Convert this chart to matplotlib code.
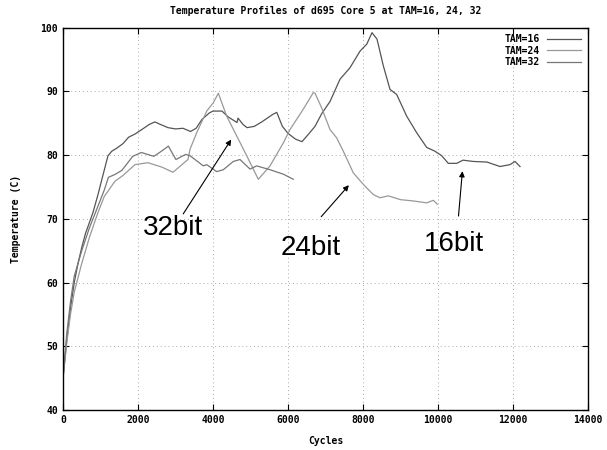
import matplotlib
matplotlib.use("Agg")
from matplotlib import pyplot as plt

# TAM=16 run
tam16_x = [0, 100, 200, 300, 400, 500, 600, 800, 933, 1050, 1200, 1300, 1440, 1600, 1750,
           1920, 2100, 2300, 2450, 2600, 2800, 3000, 3200, 3400, 3550, 3707, 3900, 4000,
           4240, 4400, 4640, 4667, 4800, 4907, 5100, 5300, 5600, 5700, 5850, 6000, 6200,
           6373, 6550, 6720, 6900, 7120, 7387, 7653, 7920, 8100, 8240, 8373, 8542, 8720,
           8898, 9165, 9432, 9698, 9920, 10098, 10275, 10500, 10667, 10933, 11307, 11653,
           11920, 12053, 12187]
tam16_y = [45, 51, 56, 60, 63, 65.5, 67.7, 71, 73.8, 76.5, 79.9, 80.6, 81.1, 81.8, 82.8,
           83.3, 84, 84.8, 85.2, 84.8, 84.3, 84.1, 84.2, 83.7, 84.2, 85.6, 86.6, 86.9,
           86.9, 86, 85.1, 85.8, 84.8, 84.3, 84.5, 85.2, 86.4, 86.7, 84.5, 83.4, 82.5,
           82.1, 83.3, 84.5, 86.5, 88.4, 91.9, 93.7, 96.3, 97.4, 99.2, 98.2, 94, 90.3,
           89.5, 86.1, 83.5, 81.2, 80.6, 79.9, 78.7, 78.7, 79.2, 79, 78.9, 78.2,
           78.5, 79, 78.2]

# TAM=24 run
tam24_x = [0, 100, 200, 300, 500, 700, 933, 1100, 1387, 1600, 1920, 2267, 2640, 2933, 3173,
           3333, 3387, 3565, 3832, 4008, 4142, 4365, 4632, 4898, 5208, 5520, 5875, 6053,
           6408, 6675, 6720, 6898, 7120, 7298, 7475, 7742, 8008, 8275, 8453, 8675, 9000,
           9342, 9698, 9875, 9982]
tam24_y = [45, 50.5, 55, 58.5, 63, 67, 71, 73.5, 75.9, 76.8, 78.5, 78.8, 78.1, 77.3, 78.5,
           79.3, 80.9, 83.5, 86.9, 88.2, 89.7, 86.1, 83, 79.9, 76.2, 78.3, 81.9, 84,
           87.2, 89.8, 89.7, 87.4, 84, 82.7, 80.6, 77.2, 75.4, 73.8, 73.3, 73.6, 73,
           72.8, 72.5, 72.9, 72.3]

# TAM=32 run
tam32_x = [0, 100, 200, 300, 500, 700, 933, 1100, 1210, 1400, 1570, 1860, 2090, 2420, 2600,
           2810, 3010, 3270, 3387, 3742, 3832, 4098, 4275, 4542, 4720, 4987, 5165, 5520,
           5875, 6142]
tam32_y = [45, 52, 57, 61, 65, 68.5, 72, 74.5, 76.5, 77, 77.6, 79.8, 80.4, 79.8, 80.5,
           81.4, 79.3, 80.1, 79.9, 78.3, 78.5, 77.4, 77.7, 79, 79.3, 77.8, 78.3, 77.7,
           77, 76.2]

# annotations: label, text position, arrow tail, arrow head
notes = [
    ("32bit", (2933, 67.4), (3165, 70.4), (4525, 82.8)),
    ("24bit", (6613, 64.3), (6837, 70.0), (7672, 75.6)),
    ("16bit", (10418, 64.9), (10540, 70.0), (10657, 77.9)),
]

mono = {"family": "DejaVu Sans Mono", "weight": "bold", "size": 7}

fig = plt.figure(figsize=(6.07, 4.5), dpi=100)
ax = fig.add_axes([0.1038, 0.0889, 0.8649, 0.8498])

ax.plot(tam16_x, tam16_y, color="#555555", lw=0.9, label="TAM=16")
ax.plot(tam24_x, tam24_y, color="#999999", lw=0.9, label="TAM=24")
ax.plot(tam32_x, tam32_y, color="#777777", lw=0.9, label="TAM=32")

for label, txt, tail, head in notes:
    ax.text(txt[0], txt[1], label, ha="center", va="baseline",
            fontsize=20, family="Liberation Sans")
    ax.annotate("", xy=head, xytext=tail,
                arrowprops=dict(arrowstyle="-|>", color="black", lw=0.8,
                                mutation_scale=8))

ax.set_xlim(0, 14000)
ax.set_ylim(40, 100)
ax.set_xticks(range(0, 14001, 2000))
ax.set_yticks(range(40, 101, 10))
ax.grid(True, color="#aaaaaa", linestyle=(0, (1, 3)), lw=0.7)
ax.tick_params(direction="in", top=True, right=True, length=4, width=0.8)
for lab in ax.get_xticklabels() + ax.get_yticklabels():
    lab.set_fontproperties(matplotlib.font_manager.FontProperties(**mono))
for s in ax.spines.values():
    s.set_linewidth(1.0)

ax.set_xlabel("Cycles", fontdict=mono, labelpad=8)
ax.set_ylabel("Temperature (C)", fontdict=mono, labelpad=14)
ax.set_title("Temperature Profiles of d695 Core 5 at TAM=16, 24, 32",
             fontdict=mono, pad=10)

leg = ax.legend(loc="upper right", frameon=False, markerfirst=False,
                prop=matplotlib.font_manager.FontProperties(**mono),
                handlelength=3.5, labelspacing=0.15, borderaxespad=0.3)
for t in leg.get_texts():
    t.set_ha("right")

fig.savefig("out.png", dpi=100)
